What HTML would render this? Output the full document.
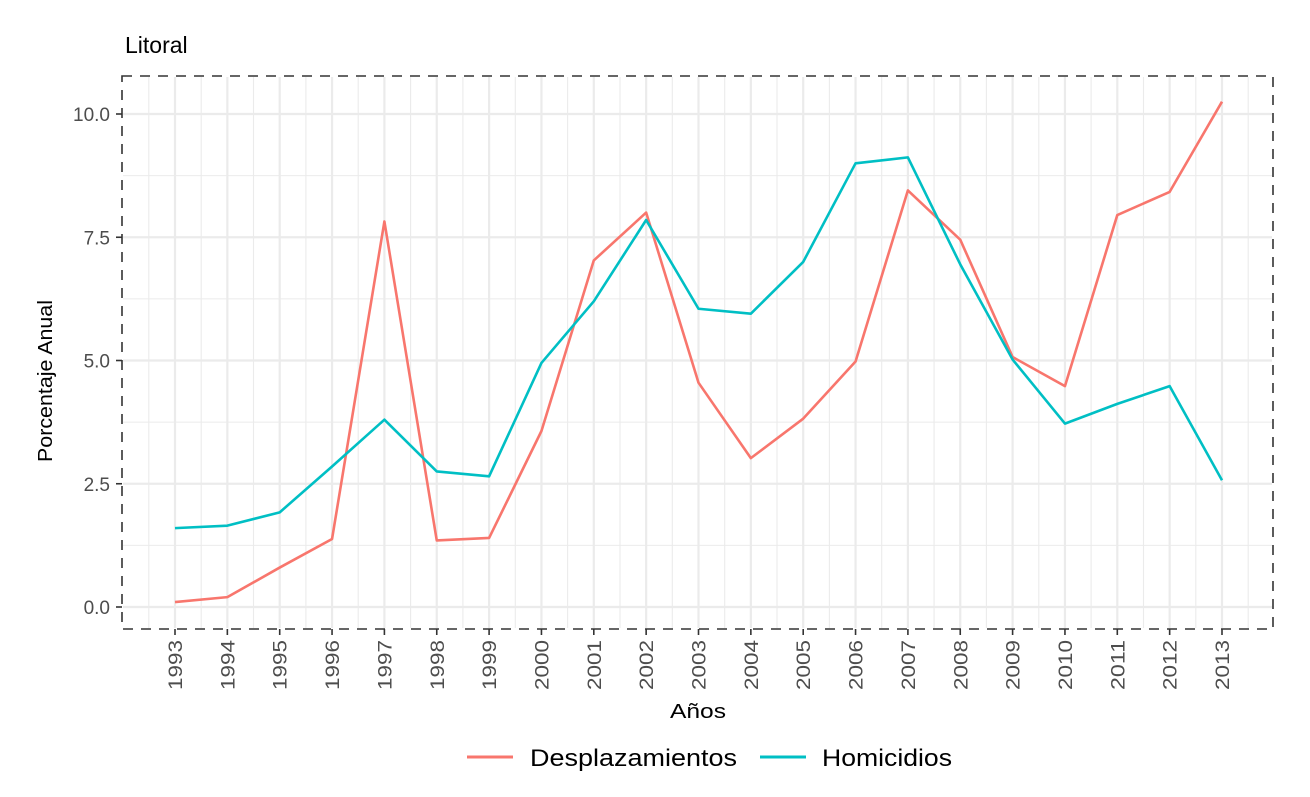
<!DOCTYPE html>
<html><head><meta charset="utf-8"><style>
body{margin:0;background:#fff;font-family:"Liberation Sans",sans-serif}
</style></head><body>
<svg id="chart" width="1310" height="792" xmlns="http://www.w3.org/2000/svg" font-family="Liberation Sans, sans-serif">
<text x="125" y="53" font-size="23" fill="#000">Litoral</text>
<g id="grid"></g><g id="axes"></g><g id="series"></g>
<rect x="122" y="76" width="1151" height="553" fill="none" stroke="#333" stroke-width="1.6" stroke-dasharray="10,8"/>
<text transform="translate(52,381) rotate(-90)" text-anchor="middle" font-size="20" textLength="162" lengthAdjust="spacingAndGlyphs">Porcentaje Anual</text>
<text x="698" y="718" text-anchor="middle" font-size="20" textLength="56" lengthAdjust="spacingAndGlyphs">Años</text>
<g>
<line x1="467" y1="757" x2="513" y2="757" stroke="#F8766D" stroke-width="3"/>
<text x="530" y="766" font-size="24" textLength="207" lengthAdjust="spacingAndGlyphs">Desplazamientos</text>
<line x1="760" y1="757" x2="806" y2="757" stroke="#00BFC4" stroke-width="3"/>
<text x="822" y="766" font-size="24" textLength="130" lengthAdjust="spacingAndGlyphs">Homicidios</text>
</g>
</svg>
<script>
const years=[1993,1994,1995,1996,1997,1998,1999,2000,2001,2002,2003,2004,2005,2006,2007,2008,2009,2010,2011,2012,2013];
const desplazamientos=[0.1,0.2,0.8,1.38,7.82,1.35,1.4,3.57,7.03,8.0,4.55,3.02,3.82,4.98,8.45,7.45,5.07,4.48,7.95,8.42,10.25];
const homicidios=[1.6,1.65,1.92,2.85,3.8,2.75,2.65,4.95,6.2,7.85,6.05,5.95,7.0,9.0,9.12,6.95,5.02,3.72,4.12,4.48,2.57];
const yTicks=[0,2.5,5,7.5,10];
const yTickLabels=["0.0","2.5","5.0","7.5","10.0"];
const NS="http://www.w3.org/2000/svg";
const X=v=>175+(v-1993)*52.35;
const Y=v=>607-v*49.3;
function mk(t,a,p){const e=document.createElementNS(NS,t);for(const k in a)e.setAttribute(k,a[k]);p.appendChild(e);return e;}
const grid=document.getElementById('grid'),axes=document.getElementById('axes'),ser=document.getElementById('series');
for(let v=-1.25;v<=10.75;v+=1.25){const major=Math.abs(v/2.5-Math.round(v/2.5))<1e-6;const y=Y(v);if(y<77||y>628)continue;
const l=mk('line',{x1:123,x2:1272,y1:y,y2:y,stroke:'#ebebeb','stroke-width':major?2.2:1.1},grid);
}
for(let v=1992;v<=2014;v+=0.5){const x=X(v);if(x<123||x>1272)continue;const major=v%1===0;
const l=mk('line',{x1:x,x2:x,y1:77,y2:628,stroke:'#ebebeb','stroke-width':major?2.2:1.1},grid);
}
yTicks.forEach((v,i)=>{const y=Y(v);
const t=mk('line',{x1:116,x2:122,y1:y,y2:y,stroke:'#333','stroke-width':1.6},axes);

const tx=mk('text',{x:110,y:y+7,'text-anchor':'end','font-size':19,fill:'#4d4d4d'},axes);tx.textContent=yTickLabels[i];
});
years.forEach(v=>{const x=X(v);
const t=mk('line',{x1:x,x2:x,y1:629,y2:635,stroke:'#333','stroke-width':1.6},axes);

const tx=mk('text',{transform:`translate(${x+7},640) rotate(-90)`,'text-anchor':'end','font-size':19,textLength:50,lengthAdjust:'spacingAndGlyphs',fill:'#4d4d4d'},axes);tx.textContent=v;
});
function line(vals,color,name){const p=mk('polyline',{points:vals.map((v,i)=>X(years[i])+','+Y(v)).join(' '),fill:'none',stroke:color,'stroke-width':2.6,'stroke-linejoin':'round'},ser);
}
line(desplazamientos,'#F8766D','line-desplazamientos');
line(homicidios,'#00BFC4','line-homicidios');
</script>
</body></html>
